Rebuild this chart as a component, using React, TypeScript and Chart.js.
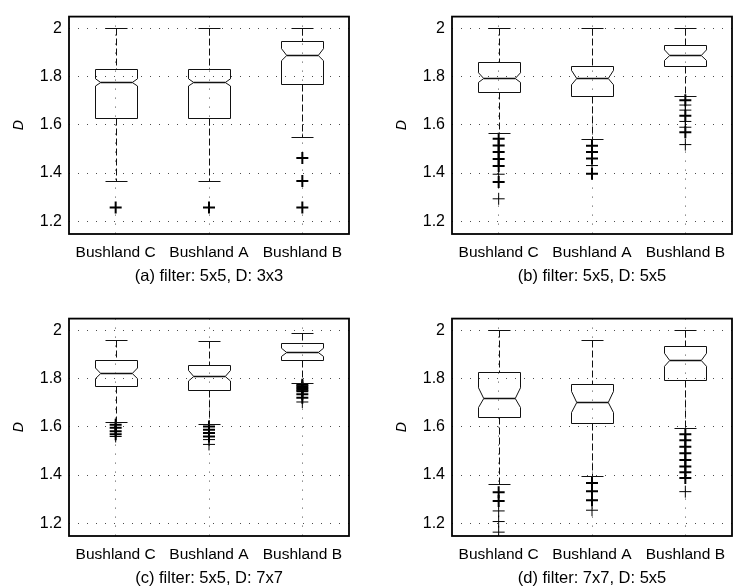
import React, { useEffect, useRef } from "react";
import { Chart, registerables } from "chart.js";

Chart.register(...registerables);

// ---------- data ----------
const categories = ["Bushland C", "Bushland A", "Bushland B"];
const panelTitles = [
  "(a) filter: 5x5, D: 3x3",
  "(b) filter: 5x5, D: 5x5",
  "(c) filter: 5x5, D: 7x7",
  "(d) filter: 7x7, D: 5x5",
];
const yTicks = [1.2, 1.4, 1.6, 1.8, 2];
const yMin = 1.147;
const yMax = 2.049;

// per panel (a..d), per category (C, A, B)
const upperWhisker = [
  [2.0, 2.0, 2.0],
  [2.0, 2.0, 2.0],
  [1.962, 1.956, 1.99],
  [2.0, 1.962, 2.0],
];
const q3 = [
  [1.833, 1.833, 1.946],
  [1.86, 1.844, 1.932],
  [1.876, 1.857, 1.946],
  [1.829, 1.778, 1.936],
];
const median = [
  [1.776, 1.776, 1.891],
  [1.796, 1.796, 1.889],
  [1.822, 1.812, 1.909],
  [1.721, 1.703, 1.878],
];
const q1 = [
  [1.63, 1.63, 1.771],
  [1.736, 1.721, 1.845],
  [1.77, 1.754, 1.876],
  [1.639, 1.616, 1.796],
];
const lowerWhisker = [
  [1.367, 1.367, 1.548],
  [1.567, 1.543, 1.72],
  [1.622, 1.612, 1.782],
  [1.364, 1.397, 1.594],
];
const notchHalf = [
  [0.015, 0.015, 0.025],
  [0.02, 0.03, 0.022],
  [0.022, 0.022, 0.017],
  [0.041, 0.044, 0.027],
];
// outliers: [value, observations stacked at that value]
const outliers: number[][][][] = [
  [
    [[1.257, 2]],
    [[1.257, 2]],
    [[1.462, 2], [1.367, 2], [1.257, 2]],
  ],
  [
    [[1.542, 2], [1.514, 2], [1.487, 2], [1.458, 2], [1.429, 2], [1.395, 1], [1.363, 2], [1.293, 1]],
    [[1.513, 2], [1.487, 2], [1.46, 2], [1.431, 1], [1.397, 2]],
    [[1.702, 2], [1.682, 1], [1.661, 1], [1.638, 2], [1.614, 1], [1.59, 1], [1.569, 2], [1.518, 1]],
  ],
  [
    [[1.609, 2], [1.596, 2], [1.582, 2], [1.569, 2], [1.56, 1]],
    [[1.601, 2], [1.588, 2], [1.574, 2], [1.56, 2], [1.547, 1], [1.527, 1]],
    [[1.775, 2], [1.768, 2], [1.761, 2], [1.754, 2], [1.748, 2], [1.735, 2], [1.721, 2], [1.703, 1]],
  ],
  [
    [[1.329, 2], [1.292, 2], [1.251, 1], [1.207, 1], [1.163, 1]],
    [[1.367, 2], [1.333, 2], [1.295, 2], [1.254, 1]],
    [[1.569, 2], [1.544, 2], [1.517, 2], [1.49, 2], [1.462, 2], [1.435, 2], [1.411, 2], [1.388, 2], [1.331, 1]],
  ],
];

// ---------- layout / style ----------
const PANEL_POS = [
  [0, 0],
  [383, 0],
  [0, 302],
  [383, 302],
];
const CANVAS_W = 366;
const CANVAS_H = 290;
const BOX_HALF = 0.23; // in category units
const FONT = "'Liberation Sans', Arial, Helvetica, sans-serif";

const crisp = (v: number) => Math.round(v) + 0.5;

const boxPlugin = {
  id: "notchedBoxes",
  afterDatasetsDraw(chart: any, _args: any, opts: any) {
    const p = opts.panel as number;
    const { ctx, chartArea } = chart;
    const xs = chart.scales.x;
    const ys = chart.scales.y;
    ctx.save();
    ctx.beginPath();
    ctx.rect(chartArea.left, chartArea.top, chartArea.right - chartArea.left, chartArea.bottom - chartArea.top);
    ctx.clip();
    ctx.strokeStyle = "#111";
    ctx.lineWidth = 1;
    for (let i = 0; i < categories.length; i++) {
      const xc = crisp(xs.getPixelForValue(i + 1));
      const hw = Math.round(xs.getPixelForValue(i + 1 + BOX_HALF) - xs.getPixelForValue(i + 1));
      const capHw = Math.round(hw / 2);
      const inset = hw * 0.25;
      const yHi = crisp(ys.getPixelForValue(upperWhisker[p][i]));
      const yQ3 = crisp(ys.getPixelForValue(q3[p][i]));
      const yMed = crisp(ys.getPixelForValue(median[p][i]));
      const yQ1 = crisp(ys.getPixelForValue(q1[p][i]));
      const yLo = crisp(ys.getPixelForValue(lowerWhisker[p][i]));
      const yNU = ys.getPixelForValue(median[p][i] + notchHalf[p][i]);
      const yNL = ys.getPixelForValue(median[p][i] - notchHalf[p][i]);
      const xL = xc - hw;
      const xR = xc + hw;

      // whiskers (dashed)
      ctx.setLineDash([7, 3]);
      ctx.beginPath();
      ctx.moveTo(xc, yHi);
      ctx.lineTo(xc, yQ3);
      ctx.moveTo(xc, yQ1);
      ctx.lineTo(xc, yLo);
      ctx.stroke();
      ctx.setLineDash([]);

      // caps
      ctx.beginPath();
      ctx.moveTo(xc - capHw, yHi);
      ctx.lineTo(xc + capHw, yHi);
      ctx.moveTo(xc - capHw, yLo);
      ctx.lineTo(xc + capHw, yLo);
      ctx.stroke();

      // notched box
      ctx.beginPath();
      ctx.moveTo(xL, yQ3);
      ctx.lineTo(xR, yQ3);
      ctx.lineTo(xR, yNU);
      ctx.lineTo(xR - inset, yMed);
      ctx.lineTo(xR, yNL);
      ctx.lineTo(xR, yQ1);
      ctx.lineTo(xL, yQ1);
      ctx.lineTo(xL, yNL);
      ctx.lineTo(xL + inset, yMed);
      ctx.lineTo(xL, yNU);
      ctx.closePath();
      ctx.stroke();

      // median
      ctx.lineWidth = 1.3;
      ctx.beginPath();
      ctx.moveTo(xL + inset, yMed);
      ctx.lineTo(xR - inset, yMed);
      ctx.stroke();
      ctx.lineWidth = 1;
    }
    ctx.restore();
  },
  afterDraw(chart: any) {
    const { ctx, chartArea } = chart;
    ctx.save();
    ctx.strokeStyle = "#000";
    ctx.lineWidth = 1.8;
    ctx.strokeRect(chartArea.left, chartArea.top, chartArea.right - chartArea.left, chartArea.bottom - chartArea.top);
    ctx.restore();
  },
};

function Panel({ p }: { p: number }) {
  const ref = useRef<HTMLCanvasElement | null>(null);
  useEffect(() => {
    if (!ref.current) return;
    const points = outliers[p].flatMap((list, i) =>
      list.map(([v, n]) => ({ x: i + 1, y: v, n }))
    );
    const gridColor = "rgba(0,0,0,0.7)";
    const chart = new Chart(ref.current, {
      type: "scatter",
      data: {
        datasets: [
          {
            label: "outliers",
            data: points as any,
            pointStyle: "cross",
            pointRadius: 6,
            pointHoverRadius: 6,
            borderColor: "#000",
            backgroundColor: "#000",
            pointBorderWidth: (c: any) => (c.raw && c.raw.n > 1 ? 2 : 1),
            showLine: false,
          } as any,
        ],
      },
      options: {
        animation: false,
        responsive: false,
        events: [],
        layout: { padding: { top: 13, right: 17, left: 0, bottom: 0 } },
        plugins: {
          legend: { display: false },
          tooltip: { enabled: false },
          notchedBoxes: { panel: p },
        } as any,
        scales: {
          x: {
            type: "linear",
            min: 0.5,
            max: 3.5,
            afterBuildTicks: (s: any) => {
              s.ticks = [1, 2, 3].map((v) => ({ value: v }));
            },
            afterFit: (s: any) => {
              s.height = CANVAS_H - 13 - 221;
            },
            ticks: {
              autoSkip: false,
              maxRotation: 0,
              padding: 9,
              color: "#000",
              font: { family: FONT, size: 15.5 },
              callback: (v: any) => categories[Math.round(Number(v)) - 1] ?? "",
            },
            grid: { color: gridColor, lineWidth: 1, drawTicks: false },
            border: { display: false, dash: [1, 8] },
            title: {
              display: true,
              text: panelTitles[p],
              color: "#000",
              font: { family: FONT, size: 16.5 },
              padding: { top: 0, bottom: 4 },
            },
          },
          y: {
            type: "linear",
            min: yMin,
            max: yMax,
            afterBuildTicks: (s: any) => {
              s.ticks = yTicks.map((v) => ({ value: v }));
            },
            afterFit: (s: any) => {
              s.width = 69;
            },
            ticks: {
              padding: 7,
              color: "#000",
              font: { family: FONT, size: 16 },
              callback: (v: any) => String(+Number(v).toFixed(1)),
            },
            grid: { color: gridColor, lineWidth: 1, drawTicks: false },
            border: { display: false, dash: [1, 8] },
            title: {
              display: true,
              text: "D",
              color: "#000",
              font: { family: FONT, size: 14, style: "italic" },
              padding: { top: 11, bottom: 0 },
            },
          },
        },
      },
      plugins: [boxPlugin as any],
    });
    return () => chart.destroy();
  }, [p]);
  const [left, top] = PANEL_POS[p];
  return (
    <div style={{ position: "absolute", left, top, width: CANVAS_W, height: CANVAS_H }}>
      <canvas ref={ref} width={CANVAS_W} height={CANVAS_H} style={{ display: "block" }} />
    </div>
  );
}

export default function App() {
  return (
    <div
      style={{
        position: "absolute",
        left: 0,
        top: 0,
        width: 733,
        height: 587,
        overflow: "hidden",
        background: "#fff",
      }}
    >
      {[0, 1, 2, 3].map((p) => (
        <Panel key={p} p={p} />
      ))}
    </div>
  );
}
